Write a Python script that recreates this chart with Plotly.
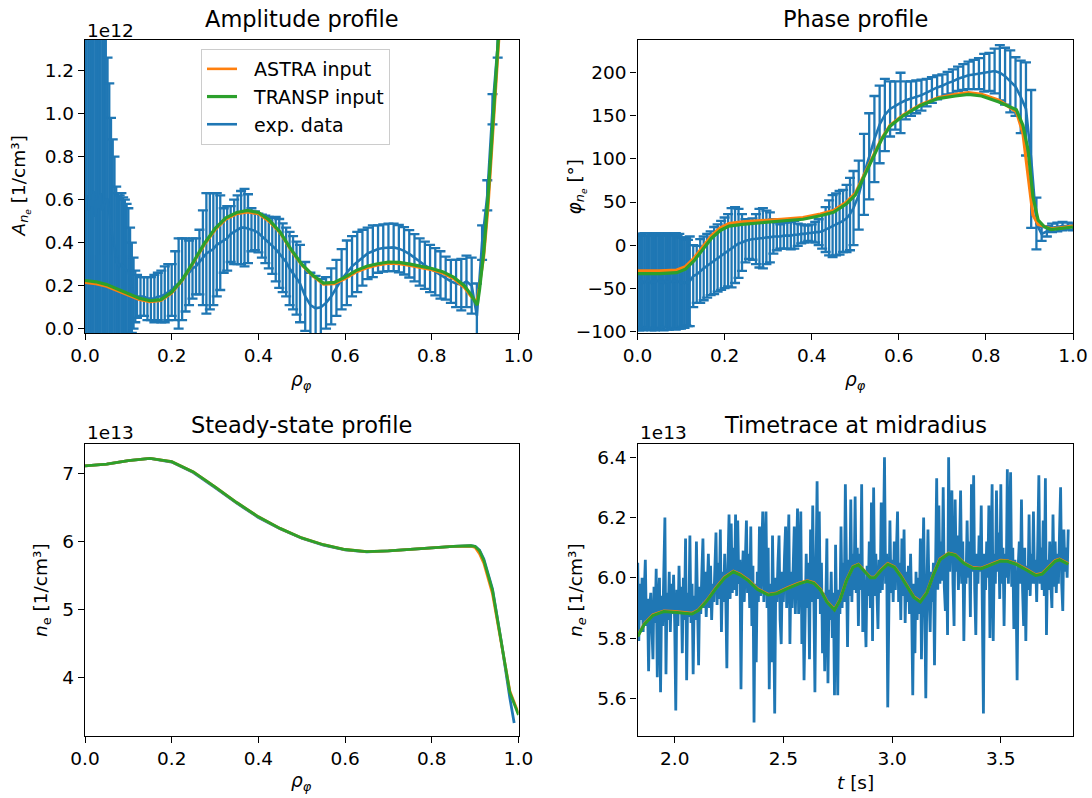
import plotly.graph_objects as go

BLUE = '#1f77b4'
ORANGE = '#ff7f0e'
GREEN = '#2ca02c'
FONT = 'DejaVu Sans'
W, H = 1092, 798

# ---------------- experimental grid (shared by amplitude & phase) ----------------
rho_exp = [0.000, 0.004, 0.008, 0.012, 0.016, 0.020, 0.024, 0.028, 0.032, 0.036,
           0.040, 0.044, 0.048, 0.052, 0.056, 0.060, 0.064, 0.068, 0.072, 0.076,
           0.080, 0.084, 0.088, 0.092, 0.096, 0.100, 0.104, 0.108, 0.112, 0.116, 0.120,
           0.128, 0.136, 0.144, 0.152, 0.160, 0.168, 0.176, 0.184, 0.192, 0.200,
           0.208, 0.216, 0.224, 0.232, 0.240, 0.248, 0.256, 0.264, 0.272, 0.280,
           0.288, 0.296, 0.304, 0.312, 0.320, 0.328, 0.336, 0.344, 0.352, 0.360,
           0.368, 0.376, 0.384, 0.392, 0.400, 0.408, 0.416, 0.424, 0.432, 0.440,
           0.448, 0.456, 0.464, 0.472, 0.480, 0.488, 0.496,
           0.508, 0.520, 0.532, 0.544, 0.556, 0.568, 0.580, 0.592, 0.604, 0.616,
           0.628, 0.640, 0.652, 0.664, 0.676, 0.688, 0.700, 0.712, 0.724, 0.736,
           0.748, 0.760, 0.772, 0.784, 0.796, 0.808, 0.820, 0.832, 0.844, 0.856,
           0.868, 0.880, 0.892, 0.904, 0.916, 0.928, 0.940, 0.952,
           0.964, 0.976, 0.988, 1.000]

# amplitude (units of 1e12 1/cm^3)
amp_exp = [0.58, 0.62, 0.55, 0.60, 0.57, 0.64, 0.52, 0.60, 0.56, 0.63,
           0.55, 0.58, 0.60, 0.60, 0.54, 0.46, 0.42, 0.38, 0.31, 0.30,
           0.29, 0.30, 0.29, 0.28, 0.27, 0.27, 0.22, 0.19, 0.165, 0.15, 0.15,
           0.15, 0.15, 0.14, 0.14, 0.14, 0.15, 0.15, 0.16, 0.17, 0.18,
           0.20, 0.21, 0.23, 0.25, 0.26, 0.28, 0.29, 0.31, 0.33, 0.35,
           0.36, 0.37, 0.39, 0.40, 0.41, 0.42, 0.44, 0.45, 0.46, 0.47,
           0.47, 0.465, 0.46, 0.455, 0.445, 0.43, 0.415, 0.40, 0.385, 0.37,
           0.35, 0.33, 0.31, 0.28, 0.26, 0.235, 0.21,
           0.15, 0.11, 0.095, 0.10, 0.12, 0.15, 0.19, 0.23, 0.26, 0.29,
           0.31, 0.33, 0.35, 0.36, 0.37, 0.375, 0.378, 0.378, 0.372, 0.362,
           0.348, 0.33, 0.31, 0.295, 0.28, 0.265, 0.25, 0.235, 0.22, 0.21,
           0.205, 0.22, 0.20, 0.06, 0.40, 0.62, 1.02, 1.32,
           1.62, 1.95, 2.25, 2.55]
amp_err = [0.85, 0.82, 0.90, 0.86, 0.88, 0.84, 0.92, 0.86, 0.88, 0.83,
           0.90, 0.87, 0.86, 0.66, 0.60, 0.52, 0.46, 0.42, 0.35, 0.33,
           0.33, 0.33, 0.32, 0.32, 0.31, 0.29, 0.25, 0.21, 0.165, 0.12, 0.10,
           0.09, 0.09, 0.10, 0.10, 0.11, 0.11, 0.12, 0.13, 0.13, 0.12,
           0.16, 0.21, 0.19, 0.17, 0.15, 0.14, 0.13, 0.15, 0.22, 0.28,
           0.27, 0.26, 0.24, 0.22, 0.15, 0.15, 0.13, 0.15, 0.16, 0.17,
           0.18, 0.16, 0.10, 0.09, 0.09, 0.10, 0.11, 0.12, 0.13, 0.15,
           0.16, 0.16, 0.16, 0.17, 0.17, 0.17, 0.18,
           0.16, 0.15, 0.15, 0.13, 0.12, 0.13, 0.13, 0.14, 0.15, 0.14,
           0.14, 0.13, 0.12, 0.12, 0.11, 0.11, 0.11, 0.11, 0.11, 0.11,
           0.11, 0.11, 0.11, 0.11, 0.11, 0.11, 0.11, 0.10, 0.10, 0.11,
           0.12, 0.12, 0.13, 0.15, 0.08, 0.07, 0.07, 0.06,
           0.06, 0.06, 0.06, 0.06]

# phase (degrees)
phase_exp = [-42, -43, -41, -44, -42, -43, -41, -42, -44, -42,
             -43, -41, -42, -43, -42, -44, -41, -43, -42, -42,
             -43, -41, -42, -43, -42, -44, -43, -44, -43, -44, -42,
             -36, -34, -30, -27, -24, -21, -18, -15, -12, -9,
             -6, -3, 0, 2, 3, 5, 6, 7, 7, 8,
             8, 9, 9, 10, 10, 10, 11, 11, 11, 12,
             12, 13, 13, 14, 14, 15, 15, 16, 18, 20,
             22, 24, 26, 28, 31, 36, 43,
             58, 82, 103, 123, 140, 151, 158, 162, 165, 168,
             170, 172, 174, 177, 180, 183, 185, 188, 190, 193,
             195, 197, 198, 199, 200, 201, 202, 200, 196, 190,
             184, 172, 158, 100, 25, 13, 16, 20,
             21, 22, 22, 21]
phase_err = [55, 56, 54, 55, 56, 54, 55, 56, 55, 54,
             56, 55, 55, 54, 56, 55, 54, 55, 56, 55,
             54, 55, 56, 54, 55, 53, 52, 52, 50, 50, 52,
             36, 33, 37, 37, 37, 37, 39, 39, 40, 41,
             42, 46, 44, 40, 33, 25, 22, 24, 29, 34,
             35, 31, 29, 20, 16, 14, 15, 15, 16, 16,
             13, 11, 10, 9, 10, 12, 15, 20, 26, 32,
             36, 36, 37, 36, 39, 42, 43,
             40, 47, 50, 50, 45, 42, 32, 28, 35, 22,
             20, 19, 18, 16, 15, 14, 13, 13, 14, 14,
             15, 16, 17, 18, 22, 22, 26, 32, 33, 36,
             34, 42, 54, 80, 30, 8, 6, 5,
             5, 5, 4, 4]

# ---------------- modelled amplitude ----------------
rho_amp_mod = [0, 0.025, 0.05, 0.075, 0.1, 0.125, 0.15, 0.175, 0.2, 0.225,
               0.25, 0.275, 0.3, 0.325, 0.35, 0.375, 0.4, 0.425, 0.45, 0.475,
               0.5, 0.525, 0.55, 0.575, 0.6, 0.625, 0.65, 0.675, 0.7, 0.725,
               0.75, 0.775, 0.8, 0.825, 0.85, 0.875, 0.89, 0.9, 0.905, 0.91,
               0.92, 0.93, 0.94, 0.95, 0.96]
amp_transp = [0.224, 0.218, 0.205, 0.185, 0.163, 0.142, 0.130, 0.135, 0.170, 0.230,
              0.310, 0.395, 0.465, 0.515, 0.540, 0.550, 0.540, 0.505, 0.450, 0.370,
              0.300, 0.250, 0.212, 0.215, 0.240, 0.270, 0.290, 0.302, 0.310, 0.308,
              0.300, 0.290, 0.280, 0.265, 0.240, 0.200, 0.160, 0.125, 0.110, 0.180,
              0.360, 0.620, 0.950, 1.250, 1.550]
amp_astra = [0.214, 0.208, 0.196, 0.176, 0.155, 0.135, 0.124, 0.130, 0.165, 0.225,
             0.305, 0.388, 0.458, 0.508, 0.533, 0.542, 0.533, 0.498, 0.444, 0.364,
             0.295, 0.245, 0.206, 0.208, 0.232, 0.262, 0.282, 0.295, 0.303, 0.301,
             0.293, 0.283, 0.273, 0.258, 0.232, 0.190, 0.150, 0.130, 0.140, 0.200,
             0.330, 0.560, 0.880, 1.180, 1.500]

# ---------------- modelled phase ----------------
rho_ph_mod = [0, 0.05, 0.09, 0.11, 0.13, 0.15, 0.17, 0.19, 0.21, 0.24,
              0.28, 0.33, 0.38, 0.42, 0.45, 0.48, 0.50, 0.52, 0.54, 0.56,
              0.58, 0.61, 0.65, 0.69, 0.73, 0.76, 0.79, 0.83, 0.87, 0.885,
              0.897, 0.908, 0.92, 0.935, 0.95, 0.97, 1.0]
ph_transp = [-33, -33, -32, -28, -18, -5, 8, 17, 22, 24,
             26, 28, 30, 34, 38, 48, 58, 80, 101, 122,
             138, 150, 162, 170, 173, 175, 173, 166, 157, 139,
             110, 56, 29, 21, 18, 19, 21]
ph_astra = [-30, -30, -29, -25, -15, -2, 11, 20, 25, 27,
            28, 30, 32, 36, 40, 50, 60, 81, 102, 123,
            139, 151, 163, 171, 175, 177, 175, 168, 155, 130,
            80, 35, 24, 21, 19, 20, 22]

# ---------------- steady-state profiles (units of 1e13 1/cm^3) ----------------
rho_ss = [0, 0.05, 0.1, 0.15, 0.2, 0.25, 0.3, 0.35, 0.4, 0.45,
          0.5, 0.55, 0.6, 0.65, 0.7, 0.75, 0.8, 0.85, 0.89, 0.9,
          0.91, 0.92, 0.94, 0.96, 0.98, 1.0]
ne_ss_transp = [7.11, 7.135, 7.185, 7.22, 7.17, 7.02, 6.80, 6.57, 6.36, 6.19,
                6.05, 5.95, 5.88, 5.85, 5.86, 5.885, 5.91, 5.925, 5.935, 5.925,
                5.86, 5.72, 5.28, 4.55, 3.78, 3.45]
ne_ss_astra = [7.11, 7.135, 7.185, 7.22, 7.17, 7.02, 6.80, 6.57, 6.36, 6.19,
               6.05, 5.95, 5.88, 5.85, 5.86, 5.885, 5.91, 5.925, 5.93, 5.91,
               5.82, 5.68, 5.23, 4.52, 3.80, 3.47]
rho_ss_exp = [0, 0.05, 0.1, 0.15, 0.2, 0.25, 0.3, 0.35, 0.4, 0.45,
              0.5, 0.55, 0.6, 0.65, 0.7, 0.75, 0.8, 0.85, 0.89, 0.9,
              0.91, 0.92, 0.94, 0.96, 0.98, 0.99]
ne_ss_exp = [7.11, 7.135, 7.185, 7.22, 7.165, 7.01, 6.79, 6.56, 6.35, 6.185,
             6.045, 5.945, 5.875, 5.845, 5.86, 5.885, 5.91, 5.925, 5.935, 5.925,
             5.87, 5.74, 5.30, 4.54, 3.70, 3.33]

# ---------------- time trace at midradius (units of 1e13 1/cm^3) ----------------
t_start = 1.83
t_step = 0.005
ne_trace = [
    6.05, 5.79, 5.98, 5.86, 6.00, 5.82, 5.95, 6.06, 5.84, 5.93, 5.69, 5.90, 5.95, 5.80, 5.73, 5.97, 5.85, 6.03, 5.67, 5.92,
    6.00, 5.62, 5.94, 5.84, 6.02, 6.20, 5.68, 5.95, 5.86, 6.02, 5.82, 5.98, 5.88, 6.01, 5.85, 5.56, 5.96, 5.84, 6.04, 5.88,
    5.97, 5.75, 6.00, 5.86, 6.13, 5.66, 5.95, 5.87, 6.14, 5.85, 5.98, 5.68, 5.94, 5.86, 6.12, 5.84, 5.71, 5.97, 5.88, 6.02,
    6.13, 5.90, 6.02, 5.87, 6.00, 6.08, 5.90, 6.04, 5.86, 5.98, 5.92, 6.06, 6.15, 5.91, 6.05, 5.93, 6.16, 5.82, 6.02, 5.92,
    6.08, 5.94, 5.70, 6.04, 6.21, 5.93, 6.18, 5.95, 6.10, 5.96, 6.21, 5.94, 6.19, 5.98, 6.06, 5.63, 5.99, 6.09, 5.92, 6.06,
    6.19, 5.95, 6.08, 5.90, 6.17, 5.84, 6.04, 5.52, 5.98, 5.72, 6.02, 5.92, 6.17, 5.94, 6.05, 6.22, 5.92, 6.04, 6.22, 5.90,
    6.10, 5.63, 5.98, 5.72, 6.14, 5.90, 5.55, 6.00, 5.92, 6.05, 6.14, 5.86, 5.78, 6.02, 5.92, 6.07, 6.17, 5.90, 6.04, 6.21,
    5.78, 6.02, 5.90, 6.08, 6.17, 5.88, 6.05, 6.23, 5.88, 6.04, 6.22, 5.78, 5.98, 5.66, 5.96, 6.08, 5.90, 6.05, 5.73, 6.16,
    5.92, 6.24, 5.94, 5.62, 6.02, 6.32, 5.93, 6.22, 5.88, 6.05, 5.75, 5.95, 5.69, 5.98, 6.13, 5.65, 5.96, 5.86, 6.02, 5.80,
    5.95, 5.61, 6.11, 5.85, 5.61, 5.96, 5.88, 6.17, 5.90, 6.05, 5.92, 6.31, 5.95, 5.77, 6.06, 5.94, 6.26, 5.92, 6.08, 5.96,
    6.27, 5.95, 6.10, 5.84, 6.08, 5.96, 6.31, 5.82, 6.02, 5.92, 5.77, 6.04, 5.94, 6.12, 5.90, 6.25, 5.79, 6.30, 5.94, 6.08,
    5.92, 5.83, 6.06, 5.95, 6.25, 5.96, 6.10, 6.40, 5.98, 6.08, 5.57, 6.00, 6.19, 5.95, 6.06, 5.92, 6.12, 5.96, 6.08, 6.22,
    5.92, 6.05, 5.86, 6.13, 5.94, 6.16, 5.85, 6.02, 5.92, 6.04, 5.88, 6.08, 5.90, 5.61, 5.98, 5.75, 6.02, 5.86, 6.00, 5.88,
    6.13, 5.73, 5.98, 6.20, 5.92, 5.60, 5.96, 6.16, 5.94, 5.82, 6.02, 5.92, 6.05, 5.71, 6.04, 6.33, 5.96, 6.24, 5.98, 6.12,
    5.99, 6.30, 5.97, 5.89, 6.08, 5.81, 6.40, 6.02, 6.18, 6.29, 5.98, 5.84, 6.26, 6.02, 6.14, 5.96, 6.10, 6.29, 5.98, 6.12,
    5.79, 6.05, 5.98, 6.19, 6.00, 6.12, 5.87, 6.31, 6.02, 6.34, 5.96, 5.81, 6.08, 5.98, 6.14, 6.02, 6.24, 5.96, 5.55, 6.08,
    5.96, 6.12, 6.00, 6.24, 5.80, 6.06, 6.31, 5.79, 6.08, 5.98, 6.29, 6.02, 6.15, 5.93, 6.31, 5.98, 6.10, 5.84, 6.08, 6.00,
    6.36, 5.98, 6.12, 6.35, 5.97, 6.10, 5.83, 6.06, 5.96, 5.66, 6.04, 6.12, 5.98, 6.26, 5.96, 5.84, 6.10, 5.79, 6.04, 5.96,
    6.21, 5.94, 6.08, 5.98, 6.22, 5.98, 6.06, 5.92, 6.12, 6.34, 5.98, 6.10, 5.96, 6.19, 5.94, 6.33, 5.81, 6.06, 5.96, 6.12,
    5.98, 5.90, 6.21, 5.97, 6.12, 5.95, 6.08, 5.98, 6.15, 6.30, 5.98, 5.89, 6.16, 6.02, 6.10, 6.00, 6.16]

t_mod = [1.83, 1.86, 1.90, 1.95, 2.00, 2.05, 2.08, 2.11, 2.15, 2.19,
         2.23, 2.27, 2.30, 2.34, 2.38, 2.43, 2.47, 2.52, 2.57, 2.61,
         2.64, 2.67, 2.70, 2.735, 2.76, 2.79, 2.82, 2.845, 2.87, 2.90,
         2.92, 2.95, 2.98, 3.01, 3.04, 3.07, 3.10, 3.13, 3.16, 3.19,
         3.22, 3.26, 3.29, 3.33, 3.37, 3.41, 3.45, 3.50, 3.53, 3.57,
         3.62, 3.66, 3.69, 3.72, 3.75, 3.77, 3.81]
ne_t_transp = [5.805, 5.845, 5.875, 5.888, 5.886, 5.882, 5.880, 5.892, 5.925, 5.965,
               6.000, 6.020, 6.010, 5.990, 5.962, 5.943, 5.948, 5.965, 5.980, 5.988,
               5.982, 5.960, 5.920, 5.893, 5.925, 5.990, 6.035, 6.043, 6.025, 6.000,
               6.000, 6.025, 6.045, 6.035, 6.005, 5.968, 5.935, 5.920, 5.950, 6.010,
               6.060, 6.080, 6.075, 6.048, 6.032, 6.030, 6.042, 6.056, 6.055, 6.045,
               6.025, 6.008, 6.012, 6.035, 6.055, 6.060, 6.045]
ne_t_astra = [5.807, 5.847, 5.877, 5.890, 5.888, 5.884, 5.882, 5.894, 5.927, 5.967,
              6.002, 6.022, 6.012, 5.992, 5.964, 5.945, 5.950, 5.967, 5.982, 5.990,
              5.984, 5.962, 5.922, 5.895, 5.927, 5.992, 6.037, 6.045, 6.027, 6.002,
              6.002, 6.027, 6.047, 6.037, 6.007, 5.970, 5.937, 5.922, 5.952, 6.012,
              6.062, 6.082, 6.077, 6.050, 6.034, 6.032, 6.044, 6.058, 6.057, 6.047,
              6.027, 6.010, 6.014, 6.037, 6.057, 6.062, 6.047]

# ---------------- tick labels ----------------
rho_ticks = [0, 0.2, 0.4, 0.6, 0.8, 1.0]
rho_ticktext = ['0.0', '0.2', '0.4', '0.6', '0.8', '1.0']
amp_ticks = [0, 0.2, 0.4, 0.6, 0.8, 1.0, 1.2]
amp_ticktext = ['0.0', '0.2', '0.4', '0.6', '0.8', '1.0', '1.2']
ph_ticks = [-100, -50, 0, 50, 100, 150, 200]
ph_ticktext = ['\u2212100', '\u221250', '0', '50', '100', '150', '200']
ss_ticks = [4, 5, 6, 7]
ss_ticktext = ['4', '5', '6', '7']
t_ticks = [2.0, 2.5, 3.0, 3.5]
t_ticktext = ['2.0', '2.5', '3.0', '3.5']
tr_ticks = [5.6, 5.8, 6.0, 6.2, 6.4]
tr_ticktext = ['5.6', '5.8', '6.0', '6.2', '6.4']

# ---------------- figure ----------------
fig = go.Figure()

err_style = dict(type='data', visible=True, color=BLUE, thickness=2.3, width=5)
NB = '\u00a0\u00a0'

# Amplitude panel
fig.add_trace(go.Scatter(x=rho_exp, y=amp_exp, mode='lines', name=NB + 'exp. data',
                         line=dict(color=BLUE, width=2.6),
                         error_y=dict(array=amp_err, **err_style),
                         legendrank=3, legendgroup='c', xaxis='x', yaxis='y'))
fig.add_trace(go.Scatter(x=rho_amp_mod, y=amp_astra, mode='lines', name=NB + 'ASTRA input',
                         line=dict(color=ORANGE, width=2.6), legendrank=1, legendgroup='a',
                         xaxis='x', yaxis='y'))
fig.add_trace(go.Scatter(x=rho_amp_mod, y=amp_transp, mode='lines', name=NB + 'TRANSP input',
                         line=dict(color=GREEN, width=3.2), legendrank=2, legendgroup='b',
                         xaxis='x', yaxis='y'))

# Phase panel
fig.add_trace(go.Scatter(x=rho_exp, y=phase_exp, mode='lines', showlegend=False,
                         line=dict(color=BLUE, width=2.6),
                         error_y=dict(array=phase_err, **err_style),
                         xaxis='x2', yaxis='y2'))
fig.add_trace(go.Scatter(x=rho_ph_mod, y=ph_astra, mode='lines', showlegend=False,
                         line=dict(color=ORANGE, width=3.2), xaxis='x2', yaxis='y2'))
fig.add_trace(go.Scatter(x=rho_ph_mod, y=ph_transp, mode='lines', showlegend=False,
                         line=dict(color=GREEN, width=3.2), xaxis='x2', yaxis='y2'))

# Steady-state panel
fig.add_trace(go.Scatter(x=rho_ss_exp, y=ne_ss_exp, mode='lines', showlegend=False,
                         line=dict(color=BLUE, width=2.8), xaxis='x3', yaxis='y3'))
fig.add_trace(go.Scatter(x=rho_ss, y=ne_ss_astra, mode='lines', showlegend=False,
                         line=dict(color=ORANGE, width=2.8), xaxis='x3', yaxis='y3'))
fig.add_trace(go.Scatter(x=rho_ss, y=ne_ss_transp, mode='lines', showlegend=False,
                         line=dict(color=GREEN, width=2.8), xaxis='x3', yaxis='y3'))

# Time trace panel
fig.add_trace(go.Scatter(x0=t_start, dx=t_step, y=ne_trace, mode='lines', showlegend=False,
                         line=dict(color=BLUE, width=2.8), xaxis='x4', yaxis='y4'))
fig.add_trace(go.Scatter(x=t_mod, y=ne_t_astra, mode='lines', showlegend=False,
                         line=dict(color=ORANGE, width=3), xaxis='x4', yaxis='y4'))
fig.add_trace(go.Scatter(x=t_mod, y=ne_t_transp, mode='lines', showlegend=False,
                         line=dict(color=GREEN, width=3), xaxis='x4', yaxis='y4'))


def px_x(p):
    return p / W


def px_y(p):
    return 1 - p / H


XL = [px_x(85), px_x(518.5)]
XR = [px_x(637.5), px_x(1073)]
YT = [px_y(333), px_y(40)]
YB = [px_y(736), px_y(444)]

tickfont = dict(family=FONT, size=18.5, color='black')
axis_common = dict(showline=True, linecolor='black', linewidth=1.3, mirror=True,
                   ticks='outside', ticklen=6, tickwidth=1.3, tickcolor='black',
                   showgrid=False, zeroline=False, tickfont=tickfont, fixedrange=True,
                   automargin=False)

fig.update_layout(
    width=W, height=H,
    margin=dict(l=0, r=0, t=0, b=0, pad=0, autoexpand=False),
    paper_bgcolor='white', plot_bgcolor='white',
    font=dict(family=FONT, color='black'),
    xaxis=dict(domain=XL, range=[0, 1], tickvals=rho_ticks, ticktext=rho_ticktext,
               anchor='y', **axis_common),
    yaxis=dict(domain=YT, range=[-0.02, 1.342], tickvals=amp_ticks, ticktext=amp_ticktext,
               anchor='x', **axis_common),
    xaxis2=dict(domain=XR, range=[0, 1], tickvals=rho_ticks, ticktext=rho_ticktext,
                anchor='y2', **axis_common),
    yaxis2=dict(domain=YT, range=[-102, 238], tickvals=ph_ticks, ticktext=ph_ticktext,
                anchor='x2', **axis_common),
    xaxis3=dict(domain=XL, range=[0, 1], tickvals=rho_ticks, ticktext=rho_ticktext,
                anchor='y3', **axis_common),
    yaxis3=dict(domain=YB, range=[3.14, 7.43], tickvals=ss_ticks, ticktext=ss_ticktext,
                anchor='x3', **axis_common),
    xaxis4=dict(domain=XR, range=[1.829, 3.832], tickvals=t_ticks, ticktext=t_ticktext,
                anchor='y4', **axis_common),
    yaxis4=dict(domain=YB, range=[5.475, 6.444], tickvals=tr_ticks, ticktext=tr_ticktext,
                anchor='x4', **axis_common),
    legend=dict(x=px_x(201), y=px_y(49), xanchor='left', yanchor='top',
                bgcolor='rgba(255,255,255,0.85)', bordercolor='#cccccc', borderwidth=1,
                font=dict(family=FONT, size=19, color='black'),
                traceorder='grouped', tracegroupgap=0),
    showlegend=True,
)

cxL = (85 + 518.5) / 2
cxR = (637.5 + 1073) / 2
ann = []


def add_text(text, x, y, size, xanchor='center', angle=0):
    ann.append(dict(text=text, x=px_x(x), y=px_y(y), xref='paper', yref='paper',
                    xanchor=xanchor, yanchor='middle', showarrow=False, textangle=angle,
                    font=dict(family=FONT, size=size, color='black')))


# titles
add_text('Amplitude profile', cxL, 18.5, 22.5)
add_text('Phase profile', cxR, 18.5, 22.5)
add_text('Steady-state profile', cxL, 425, 22.5)
add_text('Timetrace at midradius', cxR, 425, 22.5)
# offset texts
add_text('1e12', 85, 30, 18.5, xanchor='left')
add_text('1e13', 85, 432, 18.5, xanchor='left')
add_text('1e13', 637.5, 432, 18.5, xanchor='left')
# x labels
rho_lab = '<i>\u03c1</i><sub><i>\u03c6</i></sub>'
add_text(rho_lab, cxL, 381, 18.5)
add_text(rho_lab, cxR, 381, 18.5)
add_text(rho_lab, cxL, 782, 18.5)
add_text('<i>t</i> [s]', cxR, 782, 18.5)
# y labels
add_text('<i>A</i><sub><i>n</i><sub><i>e</i></sub></sub> [1/cm\u00b3]', 20, 186.5, 18.5, angle=-90)
add_text('<i>\u03c6</i><sub><i>n</i><sub><i>e</i></sub></sub> [\u00b0]', 576, 186.5, 18.5, angle=-90)
add_text('<i>n</i><sub>e</sub> [1/cm\u00b3]', 42, 590, 18.5, angle=-90)
add_text('<i>n</i><sub><i>e</i></sub> [1/cm\u00b3]', 577, 590, 18.5, angle=-90)

fig.update_layout(annotations=ann)

fig.write_html("out.html")
